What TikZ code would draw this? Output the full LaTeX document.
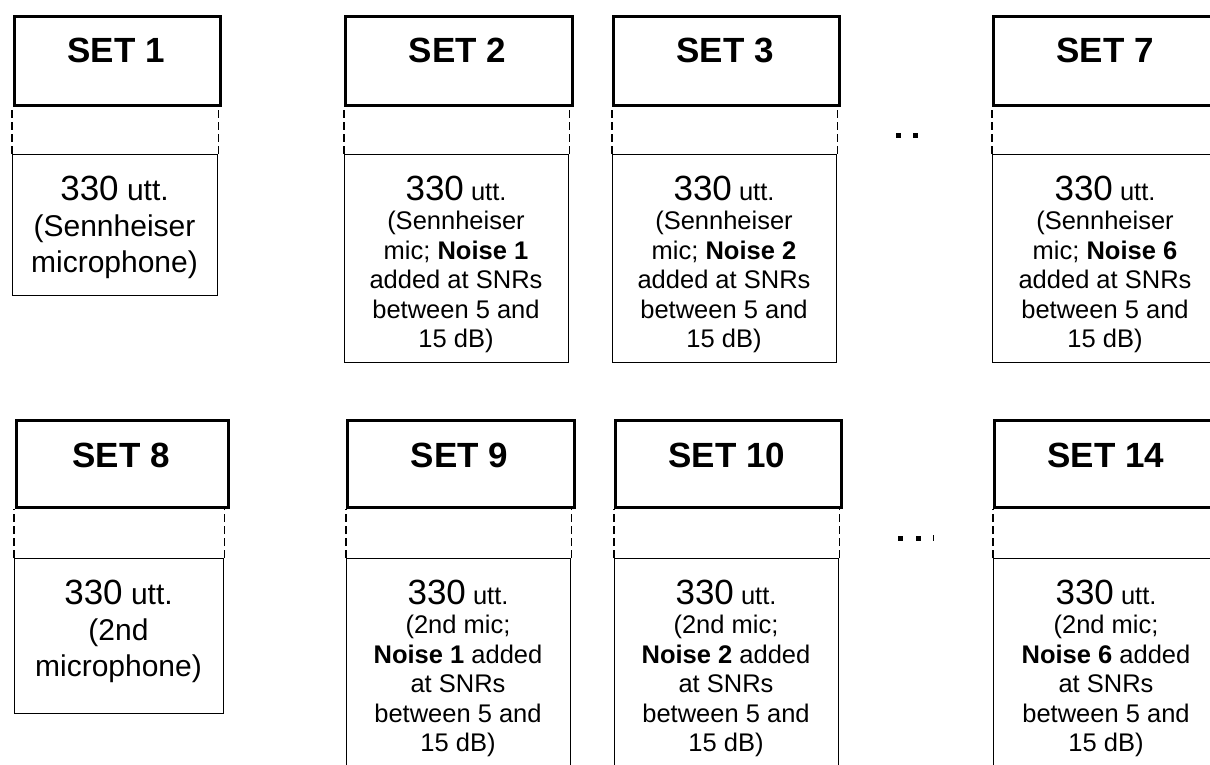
\documentclass[tikz,border=0pt]{standalone}
\usepackage{fontspec}
\setmainfont{Liberation Sans}
\begin{document}
\begin{tikzpicture}[x=1pt,y=-1pt,
  hdr/.style={draw,line width=3pt,rectangle,inner sep=0pt,anchor=north west,minimum height=89pt},
  lowbox/.style={draw,line width=1.4pt,rectangle,inner sep=0pt,anchor=north west},
  dashln/.style={line width=1.4pt,dash pattern=on 8pt off 4pt},
  settxt/.style={font=\fontsize{35}{40}\selectfont\bfseries,inner sep=0pt},
  bigtxt/.style={font=\fontsize{30}{36}\selectfont,align=center,inner sep=0pt,anchor=north},
  smltxt/.style={font=\fontsize{25.5}{29.5}\selectfont,align=center,inner sep=0pt,anchor=north},
  dotsq/.style={fill=black}
]
\fill[white] (0,0) rectangle (1210,765);
\useasboundingbox (0,0) rectangle (1210,765);
\begin{scope}
\clip (0,0) rectangle (1210,765);
% ---------- Row 1 ----------
\node[hdr,minimum width=206pt] (h1) at (13,15) {};
\node[hdr,minimum width=227pt] (h2) at (344,15) {};
\node[hdr,minimum width=226pt] (h3) at (612,15) {};
\node[hdr,minimum width=227pt] (h7) at (992,15) {};
\node[settxt] (s1) at (116,50) {SET 1};
\node[settxt] (s2) at (457.5,50) {SET 2};
\node[settxt] (s3) at (725,50) {SET 3};
\node[settxt] (s7) at (1105,50) {SET 7};
\node[lowbox,minimum width=205pt,minimum height=141pt] (b1) at (12,154) {};
\node[lowbox,minimum width=224pt,minimum height=208pt] (b2) at (344,154) {};
\node[lowbox,minimum width=224pt,minimum height=208pt] (b3) at (612,154) {};
\node[lowbox,minimum width=226pt,minimum height=208pt] (b7) at (992,154) {};
\foreach \h/\b in {h1/b1,h2/b2,h3/b3,h7/b7}{
  \draw[dashln] (\b.north west) -- (\b.north west |- \h.south);
  \draw[dashln] (\b.north east) -- (\b.north east |- \h.south);
}
\node[bigtxt] (t1) at (114.5,175.5) {{\fontsize{35}{40}\selectfont 330} utt.\\(Sennheiser\\microphone)};
\node[smltxt] (t2) at (456,175.5) {{\fontsize{35}{40}\selectfont 330} utt.\\(Sennheiser\\mic; \textbf{Noise 1}\\added at SNRs\\between 5 and\\15 dB)};
\node[smltxt] (t3) at (724,175.5) {{\fontsize{35}{40}\selectfont 330} utt.\\(Sennheiser\\mic; \textbf{Noise 2}\\added at SNRs\\between 5 and\\15 dB)};
\node[smltxt] (t7) at (1105,175.5) {{\fontsize{35}{40}\selectfont 330} utt.\\(Sennheiser\\mic; \textbf{Noise 6}\\added at SNRs\\between 5 and\\15 dB)};
\fill[dotsq] (896,133) rectangle (901,138);
\fill[dotsq] (913,133) rectangle (918,138);
% ---------- Row 2 ----------
\node[hdr,minimum width=212pt,minimum height=87pt] (h8) at (15,419) {};
\node[hdr,minimum width=227pt,minimum height=87pt] (h9) at (346,419) {};
\node[hdr,minimum width=226pt,minimum height=87pt] (h10) at (614,419) {};
\node[hdr,minimum width=227pt,minimum height=87pt] (h14) at (993,419) {};
\node[settxt] (s8) at (121,455) {SET 8};
\node[settxt] (s9) at (459.5,455) {SET 9};
\node[settxt] (s10) at (727,455) {SET 10};
\node[settxt] (s14) at (1106,455) {SET 14};
\node[lowbox,minimum width=209pt,minimum height=155pt] (b8) at (14,558) {};
\node[lowbox,minimum width=224pt,minimum height=260pt] (b9) at (346,558) {};
\node[lowbox,minimum width=224pt,minimum height=260pt] (b10) at (614,558) {};
\node[lowbox,minimum width=226pt,minimum height=260pt] (b14) at (993,558) {};
\foreach \h/\b in {h8/b8,h9/b9,h10/b10,h14/b14}{
  \draw[dashln] (\b.north west) -- (\b.north west |- \h.south);
  \draw[dashln] (\b.north east) -- (\b.north east |- \h.south);
}
\node[bigtxt] (t8) at (118.5,579.5) {{\fontsize{35}{40}\selectfont 330} utt.\\(2nd\\microphone)};
\node[smltxt] (t9) at (458,579.5) {{\fontsize{35}{40}\selectfont 330} utt.\\(2nd mic;\\\textbf{Noise 1} added\\at SNRs\\between 5 and\\15 dB)};
\node[smltxt] (t10) at (726,579.5) {{\fontsize{35}{40}\selectfont 330} utt.\\(2nd mic;\\\textbf{Noise 2} added\\at SNRs\\between 5 and\\15 dB)};
\node[smltxt] (t14) at (1106,579.5) {{\fontsize{35}{40}\selectfont 330} utt.\\(2nd mic;\\\textbf{Noise 6} added\\at SNRs\\between 5 and\\15 dB)};
\fill[dotsq] (898,536) rectangle (903,541);
\fill[dotsq] (916,536) rectangle (921,541);
\fill[dotsq] (933,535) rectangle (934.2,541);
\end{scope}
\end{tikzpicture}
\end{document}
